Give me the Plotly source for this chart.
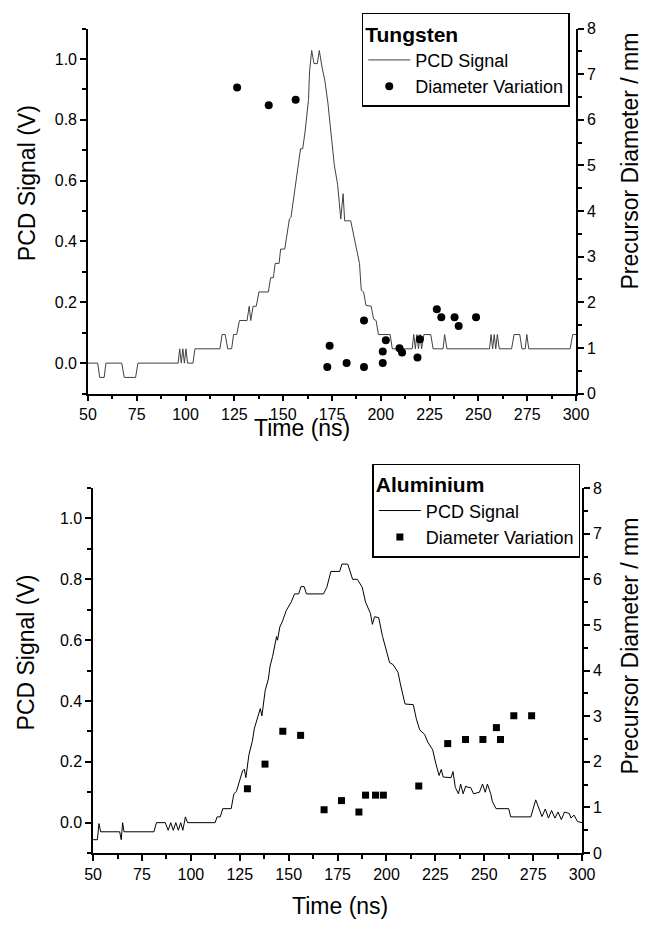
import plotly.graph_objects as go

# ---------------- data ----------------
# Tungsten PCD signal (time ns, signal V)
W_t = [50, 55, 56, 58.3, 59.2, 67.3, 68.6, 74.4, 75.6, 96.2, 97, 97.8, 98.6, 99.4, 100.2, 101,
       103.8, 104.8, 117.6, 118.7, 120.3, 121.6, 123.6, 124.6, 126.2, 127.6, 131.5, 132.6, 133.4,
       134.6, 136.2, 137.6, 142.4, 143.6, 145.0, 145.9, 147.9, 148.7, 150.8, 152.2, 153.2, 154.0,
       156.0, 157.5, 158.9, 160.0, 161.2, 163.0, 163.5, 164.6, 165.8, 167.5, 168.5, 170.0, 171.3,
       172.9, 174.6, 176.2, 177.9, 179.5, 180.7, 181.5, 184.6, 186.1, 187.5, 189.1, 190.0, 191.2,
       192.4, 195.1, 196.3, 197.6, 198.8, 204.8, 205.9, 216.1, 216.9, 217.7, 218.5, 219.3, 220.1,
       220.9, 222.1, 225.6, 226.8, 231.9, 232.7, 233.9, 255.7, 256.5, 257.3, 258.1, 258.9, 259.7,
       260.7, 267.0, 268.3, 271.2, 272.3, 274.0, 274.8, 275.8, 297.0, 298.3, 300]
W_v = [0, 0, -0.047, -0.047, 0, 0, -0.047, -0.047, 0, 0, 0.047, 0, 0.047, 0, 0.047, 0,
       0, 0.047, 0.047, 0.094, 0.094, 0.047, 0.047, 0.094, 0.094, 0.14, 0.14, 0.187, 0.14,
       0.187, 0.187, 0.234, 0.234, 0.281, 0.281, 0.328, 0.328, 0.375, 0.375, 0.425, 0.474, 0.479,
       0.57, 0.64, 0.705, 0.705, 0.76, 0.867, 0.958, 1.028, 0.985, 0.985, 1.028, 0.97, 0.931,
       0.856, 0.759, 0.651, 0.587, 0.474, 0.557, 0.468, 0.468, 0.425, 0.377, 0.328, 0.24, 0.234,
       0.19, 0.187, 0.145, 0.14, 0.094, 0.094, 0.047, 0.047, 0.094, 0.047, 0.094, 0.047, 0.094,
       0.047, 0.094, 0.094, 0.047, 0.047, 0.094, 0.047, 0.047, 0.094, 0.047, 0.094, 0.047, 0.094,
       0.047, 0.047, 0.094, 0.094, 0.047, 0.047, 0.094, 0.047, 0.047, 0.094, 0.094]

# Tungsten precursor diameter (time ns, diameter mm)
W_dt = [126.4, 142.6, 156.4, 173.8, 172.6, 182.5, 191.4, 191.4, 201.0, 201.0, 202.6, 209.6,
        210.9, 218.8, 220.0, 228.7, 231.0, 237.8, 239.9, 248.8]
W_d = [6.71, 6.32, 6.44, 1.05, 0.58, 0.67, 0.58, 1.60, 0.92, 0.67, 1.17, 0.99,
       0.90, 0.79, 1.19, 1.85, 1.67, 1.67, 1.48, 1.67]

# Aluminium PCD signal (time ns, signal V)
A_t = [50, 52.2, 53.0, 53.9, 63.6, 64.4, 65.1, 65.8, 81.1, 82.4, 86.9, 88.4, 89.7, 91.0, 92.3,
       93.6, 94.8, 95.9, 97.2, 98.3, 112.4, 113.4, 115.0, 116.3, 120.6, 122.0, 123.3, 124.8,
       126.4, 127.3, 128.1, 129.7, 131.4, 132.5, 134.7, 135.5, 136.3, 138.0, 139.6, 140.5, 141.8,
       143.0, 143.8, 144.3, 145.5, 146.7, 148.8, 151.3, 153.0, 155.1, 156.3, 157.9, 159.1, 167.8,
       169.5, 171.6, 176.1, 177.2, 180.2, 182.7, 185.1, 187.6, 189.3, 191.8, 192.8, 193.9, 196.0,
       198.0, 199.7, 201.6, 203.3, 205.9, 207.1, 209.5, 213.7, 215.3, 217.0, 219.5, 221.1, 223.6,
       225.2, 226.9, 228.0, 229.0, 233.0, 234.0, 235.2, 236.8, 237.9, 239.2, 240.5, 241.7, 243.0,
       244.5, 247.5, 249.1, 250.5, 251.6, 253.3, 254.1, 256.0, 262.5, 263.5, 273.8, 276.3, 277.9,
       279.5, 281.2, 282.8, 284.4, 286.1, 287.7, 289.4, 291.0, 293.5, 294.3, 295.9, 297.6, 300.0]
A_v = [-0.056, -0.056, -0.003, -0.03, -0.03, -0.056, 0.0, -0.03, -0.03, 0.0, 0.0, -0.025, 0.0,
       -0.025, 0.0, -0.025, 0.0, -0.025, 0.019, 0.0, 0.0, 0.019, 0.019, 0.046, 0.046, 0.095, 0.103,
       0.138, 0.170, 0.176, 0.148, 0.224, 0.267, 0.311, 0.365, 0.375, 0.351, 0.435, 0.472, 0.515,
       0.547, 0.590, 0.612, 0.600, 0.644, 0.660, 0.698, 0.725, 0.752, 0.752, 0.776, 0.776, 0.752,
       0.752, 0.774, 0.826, 0.826, 0.850, 0.850, 0.800, 0.800, 0.774, 0.725, 0.688, 0.652, 0.677,
       0.674, 0.612, 0.569, 0.526, 0.520, 0.494, 0.456, 0.390, 0.388, 0.340, 0.305, 0.290, 0.265,
       0.240, 0.195, 0.155, 0.175, 0.150, 0.148, 0.168, 0.116, 0.095, 0.127, 0.095, 0.120, 0.116,
       0.116, 0.095, 0.100, 0.127, 0.100, 0.127, 0.095, 0.070, 0.046, 0.046, 0.019, 0.019, 0.075,
       0.050, 0.020, 0.045, 0.015, 0.040, 0.015, 0.035, 0.010, 0.035, 0.030, 0.015, 0.025, 0.004,
       0.0]

# Aluminium precursor diameter (time ns, diameter mm)
A_dt = [128.9, 137.9, 147.0, 156.1, 168.1, 177.0, 185.9, 189.3, 194.4, 198.4, 216.5, 231.3,
        240.4, 249.3, 256.2, 258.3, 265.1, 274.2]
A_d = [1.41, 1.95, 2.67, 2.58, 0.95, 1.15, 0.90, 1.27, 1.27, 1.27, 1.47, 2.40,
       2.49, 2.49, 2.75, 2.49, 3.01, 3.01]

X_TICKS = [50, 75, 100, 125, 150, 175, 200, 225, 250, 275, 300]

# ---------------- figure ----------------
W, H = 655, 931
FONT = "Liberation Sans, Arial, sans-serif"

fig = go.Figure()
fig.add_trace(go.Scatter(x=W_t, y=W_v, mode="lines", name="PCD Signal",
                         line=dict(color="#404040", width=1), xaxis="x", yaxis="y",
                         legend="legend"))
fig.add_trace(go.Scatter(x=W_dt, y=W_d, mode="markers", name="Diameter Variation",
                         marker=dict(symbol="circle", size=8, color="black"),
                         xaxis="x", yaxis="y2", legend="legend"))
fig.add_trace(go.Scatter(x=A_t, y=A_v, mode="lines", name="PCD Signal",
                         line=dict(color="black", width=1), xaxis="x2", yaxis="y3",
                         legend="legend2"))
fig.add_trace(go.Scatter(x=A_dt, y=A_d, mode="markers", name="Diameter Variation",
                         marker=dict(symbol="square", size=7, color="black"),
                         xaxis="x2", yaxis="y4", legend="legend2"))


def px_x(p):
    return p / W


def px_y(p):
    return 1 - p / H


axis_common = dict(showline=True, linecolor="black", linewidth=1.5, showgrid=False,
                   zeroline=False, ticks="outside", ticklen=6, tickwidth=1.5,
                   tickcolor="black", tickfont=dict(family=FONT, size=16, color="black"))

xcommon = dict(axis_common, range=[50, 300], tickvals=X_TICKS,
               minor=dict(tickvals=[v + 12.5 for v in X_TICKS[:-1]], ticks="outside",
                          ticklen=4, tickwidth=1.5, tickcolor="black"))
ylcommon = dict(axis_common, range=[-0.1, 1.1], tickmode="linear", tick0=0, dtick=0.2,
                tickformat=".1f",
                minor=dict(tick0=0, dtick=0.1, ticks="outside", ticklen=4, tickwidth=1.5,
                           tickcolor="black"))
yrcommon = dict(axis_common, range=[0, 8], tickmode="linear", tick0=0, dtick=1,
                minor=dict(tick0=0, dtick=0.5, ticks="outside", ticklen=4, tickwidth=1.5,
                           tickcolor="black"))

top_x = [px_x(81.7), px_x(586.7)]
top_y = [px_y(392.7), px_y(21)]
bot_x = [px_x(87), px_x(593)]
bot_y = [px_y(860.8), px_y(489)]

legend_common = dict(bordercolor="black", borderwidth=1.5, bgcolor="white",
                     xanchor="left", yanchor="top", tracegroupgap=0, itemwidth=42,
                     font=dict(family=FONT, size=18, color="black"))

fig.update_layout(
    width=W, height=H, autosize=False,
    margin=dict(l=0, r=0, t=0, b=0),
    paper_bgcolor="white", plot_bgcolor="white",
    font=dict(family=FONT, color="black"),
    xaxis=dict(xcommon, domain=top_x, anchor="y"),
    yaxis=dict(ylcommon, domain=top_y, anchor="x"),
    yaxis2=dict(yrcommon, domain=top_y, anchor="x", overlaying="y", side="right"),
    xaxis2=dict(xcommon, domain=bot_x, anchor="y3"),
    yaxis3=dict(ylcommon, domain=bot_y, anchor="x2"),
    yaxis4=dict(yrcommon, domain=bot_y, anchor="x2", overlaying="y3", side="right"),
    legend=dict(legend_common, x=px_x(365), y=px_y(5),
                title=dict(text="<b>Tungsten</b>", font=dict(family=FONT, size=21))),
    legend2=dict(legend_common, x=px_x(376), y=px_y(464),
                 title=dict(text="<b>Aluminium</b>", font=dict(family=FONT, size=21))),
)

title_font = dict(family=FONT, size=23, color="black")
annos = [
    dict(text="Time (ns)", x=px_x(303), y=px_y(428), showarrow=False),
    dict(text="Time (ns)", x=px_x(343), y=px_y(915), showarrow=False),
    dict(text="PCD Signal (V)", x=px_x(18), y=px_y(178), textangle=-90, showarrow=False),
    dict(text="PCD Signal (V)", x=px_x(18), y=px_y(656), textangle=-90, showarrow=False),
    dict(text="Precursor Diameter / mm", x=px_x(643), y=px_y(156), textangle=-90,
         showarrow=False),
    dict(text="Precursor Diameter / mm", x=px_x(643), y=px_y(650), textangle=-90,
         showarrow=False),
]
for a in annos:
    a.update(xref="paper", yref="paper", xanchor="center", yanchor="middle", font=title_font)
fig.update_layout(annotations=annos)

fig.write_html("out.html", config={"displayModeBar": False},
               post_script="document.body.style.margin='0';document.body.style.overflow='hidden';")
